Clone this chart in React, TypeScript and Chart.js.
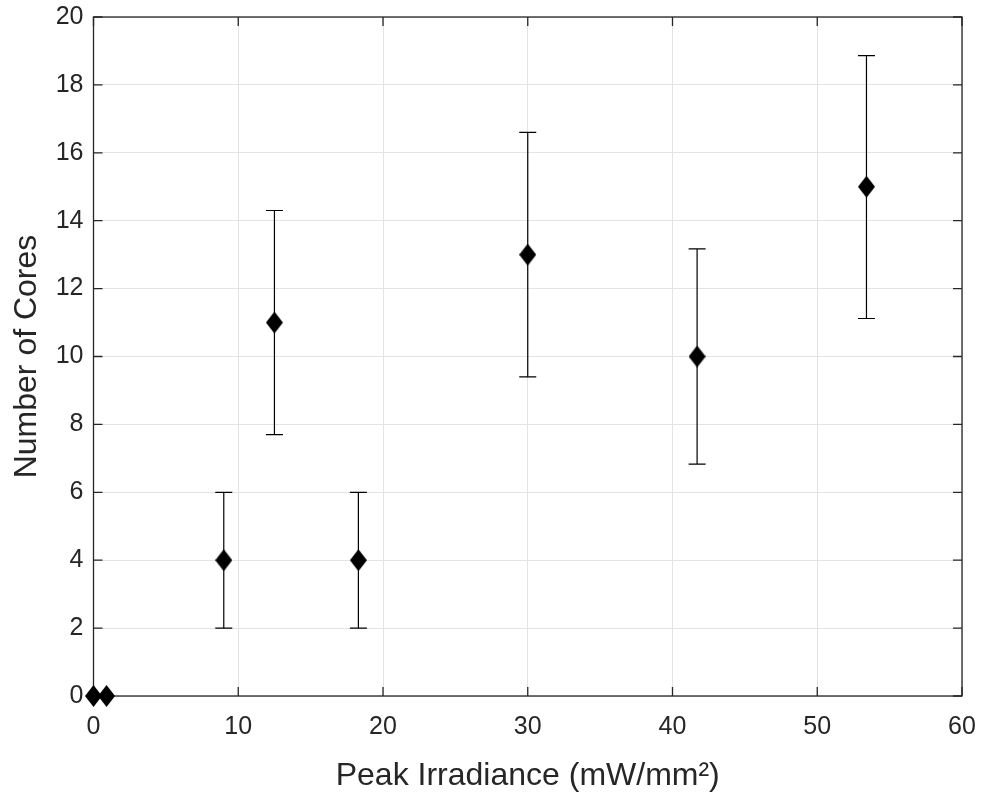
import React, { useEffect, useRef } from "react";
import { Chart, registerables } from "chart.js";

Chart.register(...registerables);

// ---- data ----
const irradiance = [0, 0.9, 9, 12.5, 18.3, 30, 41.7, 53.4];
const cores = [0, 0, 4, 11, 4, 13, 10, 15];
const errLow: (number | null)[] = [null, null, 2, 3.3, 2, 3.6, 3.17, 3.88];
const errHigh: (number | null)[] = [null, null, 2, 3.3, 2, 3.6, 3.17, 3.86];
const xTickValues = [0, 10, 20, 30, 40, 50, 60];
const yTickValues = [0, 2, 4, 6, 8, 10, 12, 14, 16, 18, 20];
const xTitle = "Peak Irradiance (mW/mm²)";
const yTitle = "Number of Cores";

const FONT = "'Liberation Sans', Arial, Helvetica, sans-serif";
const AXIS = "#262626";
const GRID = "#e3e3e3";

function makeDiamond(): HTMLCanvasElement {
  const w = 17;
  const h = 22;
  const c = document.createElement("canvas");
  c.width = w;
  c.height = h;
  const g = c.getContext("2d")!;
  g.fillStyle = "#000";
  g.beginPath();
  g.moveTo(w / 2, 0);
  g.lineTo(w, h / 2);
  g.lineTo(w / 2, h);
  g.lineTo(0, h / 2);
  g.closePath();
  g.fill();
  return c;
}

const boxPlugin = {
  id: "matlabBox",
  beforeDatasetsDraw(chart: any) {
    const { ctx, chartArea: a, scales } = chart;
    const xs = scales.x;
    const ys = scales.y;
    ctx.save();
    // error bars
    ctx.strokeStyle = "#000";
    ctx.lineWidth = 1.2;
    const cap = 8.5;
    irradiance.forEach((xv, i) => {
      const lo = errLow[i];
      const hi = errHigh[i];
      if (lo == null || hi == null) return;
      const px = xs.getPixelForValue(xv);
      const pTop = ys.getPixelForValue(cores[i] + hi);
      const pBot = ys.getPixelForValue(cores[i] - lo);
      ctx.beginPath();
      ctx.moveTo(px, pTop);
      ctx.lineTo(px, pBot);
      ctx.moveTo(px - cap, pTop);
      ctx.lineTo(px + cap, pTop);
      ctx.moveTo(px - cap, pBot);
      ctx.lineTo(px + cap, pBot);
      ctx.stroke();
    });
    // box
    ctx.strokeStyle = AXIS;
    ctx.lineWidth = 1.3;
    ctx.strokeRect(a.left, a.top, a.right - a.left, a.bottom - a.top);
    // inward ticks
    const tl = 9;
    ctx.beginPath();
    xTickValues.forEach((v) => {
      const px = xs.getPixelForValue(v);
      ctx.moveTo(px, a.bottom);
      ctx.lineTo(px, a.bottom - tl);
      ctx.moveTo(px, a.top);
      ctx.lineTo(px, a.top + tl);
    });
    yTickValues.forEach((v) => {
      const py = ys.getPixelForValue(v);
      ctx.moveTo(a.left, py);
      ctx.lineTo(a.left + tl, py);
      ctx.moveTo(a.right, py);
      ctx.lineTo(a.right - tl, py);
    });
    ctx.stroke();
    ctx.restore();
  },
};

function zeroPad(s: any) {
  s.paddingTop = 0;
  s.paddingBottom = 0;
  s.paddingLeft = 0;
  s.paddingRight = 0;
}

export default function App() {
  const ref = useRef<HTMLCanvasElement | null>(null);
  useEffect(() => {
    document.body.style.margin = "0";
    const diamond = makeDiamond();
    const chart = new Chart(ref.current!, {
      type: "scatter",
      data: {
        datasets: [
          {
            data: irradiance.map((x, i) => ({ x, y: cores[i] })),
            pointStyle: diamond as any,
            pointRadius: 9,
            backgroundColor: "#000",
            borderColor: "#000",
            clip: false as any,
          },
        ],
      },
      options: {
        responsive: false,
        animation: false,
        events: [],
        layout: { padding: { top: 17, right: 19, left: 0, bottom: 0 } },
        plugins: { legend: { display: false }, tooltip: { enabled: false } },
        scales: {
          x: {
            type: "linear",
            min: 0,
            max: 60,
            afterFit: (s: any) => {
              s.height = 99;
              zeroPad(s);
            },
            afterBuildTicks: (s: any) => {
              s.ticks = xTickValues.map((v) => ({ value: v }));
            },
            grid: { color: GRID, lineWidth: 1, drawTicks: false },
            border: { display: false },
            ticks: {
              padding: 16,
              color: AXIS,
              font: { family: FONT, size: 25 },
              maxRotation: 0,
            },
            title: {
              display: true,
              text: xTitle,
              color: AXIS,
              font: { family: FONT, size: 32 },
              padding: { top: 0, bottom: 0 },
            },
          },
          y: {
            type: "linear",
            min: 0,
            max: 20,
            afterFit: (s: any) => {
              s.width = 93.5;
              zeroPad(s);
            },
            afterBuildTicks: (s: any) => {
              s.ticks = yTickValues.map((v) => ({ value: v }));
            },
            grid: { color: GRID, lineWidth: 1, drawTicks: false },
            border: { display: false },
            ticks: {
              padding: 10,
              color: AXIS,
              font: { family: FONT, size: 25 },
            },
            title: {
              display: true,
              text: yTitle,
              color: AXIS,
              font: { family: FONT, size: 32 },
              padding: { top: 8, bottom: 0 },
            },
          },
        },
      },
      plugins: [boxPlugin],
    });
    return () => chart.destroy();
  }, []);
  return (
    <div style={{ width: 981, height: 795, background: "#fff" }}>
      <canvas ref={ref} width={981} height={795} style={{ display: "block" }} />
    </div>
  );
}
